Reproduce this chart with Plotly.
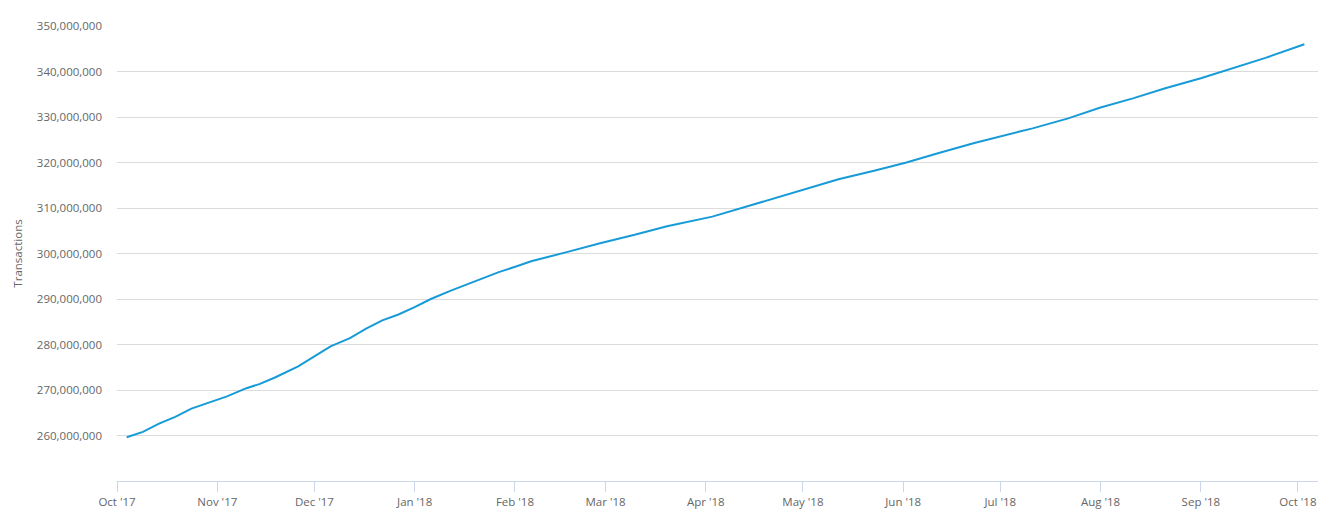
import plotly.graph_objects as go

dates = [
    "2017-10-04", "2017-10-09", "2017-10-14", "2017-10-19", "2017-10-24", "2017-10-29",
    "2017-11-04", "2017-11-10", "2017-11-14", "2017-11-19", "2017-11-26", "2017-12-01",
    "2017-12-06", "2017-12-12", "2017-12-17", "2017-12-22", "2017-12-27", "2018-01-01",
    "2018-01-06", "2018-01-12", "2018-01-17", "2018-01-22", "2018-01-27", "2018-02-02",
    "2018-02-06", "2018-02-17", "2018-02-27", "2018-03-10", "2018-03-20", "2018-04-03",
    "2018-04-13", "2018-04-23", "2018-05-03", "2018-05-12", "2018-05-23", "2018-06-02",
    "2018-06-12", "2018-06-23", "2018-07-07", "2018-07-11", "2018-07-22", "2018-08-01",
    "2018-08-11", "2018-08-21", "2018-09-01", "2018-09-11", "2018-09-21", "2018-10-03",
]
transactions_m = [
    259.6, 260.8, 262.6, 264.1, 265.9, 267.2,
    268.6, 270.4, 271.3, 272.8, 275.2, 277.4,
    279.6, 281.4, 283.5, 285.3, 286.6, 288.2,
    290.0, 291.8, 293.2, 294.5, 295.9, 297.3,
    298.3, 300.3, 302.2, 304.1, 306.0, 308.1,
    310.2, 312.2, 314.4, 316.3, 318.2, 320.0,
    322.1, 324.3, 326.8, 327.5, 329.7, 332.1,
    334.1, 336.3, 338.5, 340.7, 343.0, 346.0,
]
transactions = [v * 1_000_000 for v in transactions_m]

month_ticks = [
    "2017-10-01", "2017-11-01", "2017-12-01", "2018-01-01", "2018-02-01", "2018-03-01",
    "2018-04-01", "2018-05-01", "2018-06-01", "2018-07-01", "2018-08-01", "2018-09-01",
    "2018-10-01",
]
month_labels = [
    "Oct '17", "Nov '17", "Dec '17", "Jan '18", "Feb '18", "Mar '18", "Apr '18",
    "May '18", "Jun '18", "Jul '18", "Aug '18", "Sep '18", "Oct '18",
]
y_ticks = [260e6, 270e6, 280e6, 290e6, 300e6, 310e6, 320e6, 330e6, 340e6, 350e6]
y_labels = [f"{int(v):,}" for v in y_ticks]

fig = go.Figure()
fig.add_trace(go.Scatter(
    x=dates, y=transactions, mode="lines",
    line=dict(color="#179bd7", width=2),
    name="Transactions",
    hovertemplate="%{x|%b %d, %Y}<br>%{y:,}<extra></extra>",
))

fig.update_layout(
    width=1322, height=507,
    margin=dict(l=109, r=12, t=18, b=34),
    paper_bgcolor="white", plot_bgcolor="white",
    showlegend=False,
    font=dict(family="Open Sans, sans-serif", size=12, color="#666666"),
    xaxis=dict(
        type="date",
        range=["2017-10-01", "2018-10-07 05:00"],
        tickvals=month_ticks, ticktext=month_labels,
        showgrid=False, zeroline=False,
        showline=True, linecolor="#ccd6eb", linewidth=1,
        ticks="outside", ticklen=10, tickcolor="#ccd6eb", tickwidth=1,
        tickfont=dict(size=11.5, color="#666666"),
        automargin=False,
    ),
    yaxis=dict(
        range=[250e6, 350e6],
        tickvals=y_ticks, ticktext=y_labels,
        showgrid=True, gridcolor="#dcdcdc", gridwidth=1,
        zeroline=False, showline=False,
        ticks="", ticklabelstandoff=14,
        tickfont=dict(size=11.5, color="#666666"),
        title=dict(text="Transactions", font=dict(size=11.5, color="#666666"), standoff=11),
        automargin=False,
    ),
)

fig.write_html("out.html")
